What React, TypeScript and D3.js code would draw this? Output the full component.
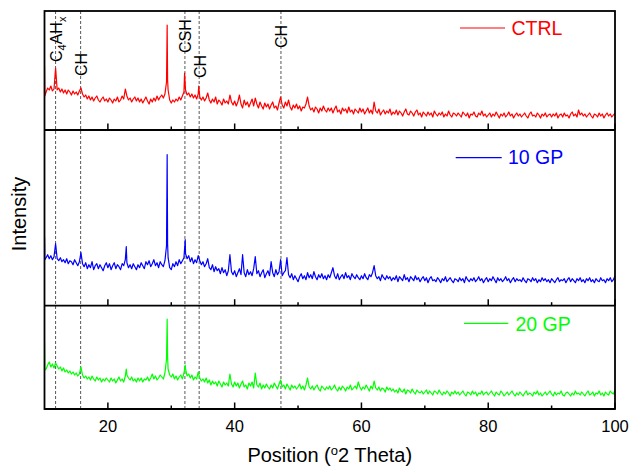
import React from 'react'
import * as d3 from 'd3'

const width = 629
const height = 468

// XRD scans, read on a 0.25 deg grid starting at 10 deg (intensity in a.u.)
const gridStart = 10
const gridStep = 0.25

const ctrl = [
  64, 38, 42, 40, 44, 39, 41, 62, 40, 42, 38, 41, 37, 40, 36, 40, 38, 35, 39, 36,
  38, 35, 39, 42, 36, 33, 35, 31, 34, 30, 33, 29, 32, 34, 30, 28, 31, 33, 29, 31,
  28, 32, 30, 27, 31, 29, 33, 28, 30, 34, 31, 41, 34, 30, 32, 28, 31, 33, 29, 32,
  28, 31, 27, 30, 33, 29, 26, 31, 28, 32, 29, 34, 30, 33, 35, 32, 36, 48, 40, 30,
  27, 30, 28, 31, 29, 33, 30, 34, 38, 40, 35, 37, 33, 36, 32, 35, 31, 36, 33, 30,
  33, 29, 32, 37, 30, 27, 31, 28, 33, 26, 30, 28, 25, 31, 27, 29, 26, 35, 28, 25,
  29, 24, 28, 35, 26, 22, 30, 25, 28, 23, 27, 31, 24, 32, 26, 22, 28, 24, 21, 27,
  23, 26, 21, 25, 28, 22, 24, 20, 27, 33, 25, 22, 28, 24, 30, 23, 20, 25, 22, 26,
  21, 24, 19, 23, 22, 26, 33, 24, 20, 22, 18, 23, 21, 17, 22, 19, 24, 20, 18, 22,
  19, 22, 17, 21, 24, 18, 20, 16, 22, 19, 21, 17, 23, 18, 20, 16, 21, 19, 17, 22,
  18, 21, 16, 19, 22, 17, 20, 16, 28, 19, 17, 21, 15, 18, 20, 16, 19, 17, 21, 15,
  18, 16, 20, 15, 19, 17, 14, 18, 21, 16, 15, 19, 17, 14, 18, 20, 15, 17, 13, 18,
  16, 14, 18, 15, 17, 13, 19, 16, 14, 17, 15, 18, 13, 16, 14, 19, 15, 13, 17, 16,
  14, 17, 15, 13, 18, 16, 14, 17, 12, 16, 15, 18, 14, 13, 17, 15, 19, 14, 16, 13,
  15, 17, 13, 16, 14, 18, 15, 12, 16, 14, 17, 13, 15, 18, 14, 16, 12, 15, 17, 14,
  16, 13, 15, 17, 14, 12, 16, 18, 14, 15, 13, 17, 15, 12, 16, 14, 17, 13, 15, 16,
  13, 16, 14, 17, 12, 15, 16, 13, 17, 14, 15, 12, 16, 18, 14, 16, 13, 20, 15, 17,
  14, 16, 13, 15, 17, 14, 12, 16, 15, 13, 17, 14, 16, 12, 15, 17, 14, 16, 13, 15,
  17,
]
const ctrlPeaks = [[10.05, 34], [29.35, 105], [29.42, 50], [32.1, 57], [34.33, 44]]

const gp10 = [
  69, 48, 51, 47, 50, 46, 49, 62, 47, 45, 48, 44, 46, 43, 47, 42, 45, 44, 41, 46,
  43, 40, 44, 53, 42, 39, 43, 37, 41, 38, 44, 36, 40, 42, 37, 41, 38, 35, 40, 43,
  38, 42, 36, 40, 43, 37, 41, 39, 36, 42, 40, 46, 43, 38, 41, 37, 42, 39, 36, 41,
  38, 43, 40, 37, 44, 41, 45, 39, 42, 46, 40, 43, 38, 44, 41, 39, 45, 60, 48, 38,
  36, 42, 39, 44, 40, 46, 42, 45, 48, 52, 47, 50, 44, 48, 42, 46, 43, 50, 45, 41,
  44, 39, 42, 47, 38, 36, 41, 34, 39, 35, 37, 32, 38, 33, 36, 30, 35, 51, 34, 31,
  35, 29, 33, 37, 31, 51, 33, 29, 36, 31, 34, 30, 37, 49, 32, 35, 29, 33, 36, 28,
  32, 35, 30, 44, 33, 29, 36, 31, 34, 46, 30, 33, 35, 48, 31, 28, 32, 26, 30, 27,
  24, 29, 32, 27, 30, 26, 33, 28, 31, 27, 34, 29, 26, 31, 28, 32, 27, 30, 26, 31,
  28, 33, 38, 30, 27, 32, 26, 29, 31, 27, 33, 28, 30, 26, 32, 29, 27, 31, 28, 26,
  30, 27, 32, 28, 26, 31, 29, 33, 40, 30, 27, 29, 25, 31, 28, 26, 30, 27, 29, 25,
  28, 26, 30, 24, 29, 27, 25, 31, 26, 28, 24, 29, 27, 25, 30, 26, 28, 24, 27, 29,
  25, 28, 23, 27, 29, 25, 26, 24, 28, 26, 23, 27, 25, 29, 24, 26, 28, 25, 23, 27,
  26, 24, 28, 25, 27, 23, 29, 26, 24, 27, 25, 28, 24, 26, 29, 25, 27, 23, 26, 28,
  24, 27, 25, 29, 26, 23, 28, 25, 27, 24, 26, 29, 25, 27, 23, 26, 28, 24, 27, 25,
  26, 24, 28, 25, 23, 27, 26, 24, 28, 25, 27, 23, 26, 24, 28, 25, 27, 24, 26, 23,
  27, 25, 23, 26, 28, 24, 26, 25, 27, 23, 26, 28, 24, 27, 25, 23, 27, 25, 28, 24,
  26, 23, 27, 25, 28, 24, 26, 23, 27, 25, 24, 28, 25, 26, 23, 27, 25, 28, 24, 26,
  30,
]
const gp10Peaks = [[10.05, 46], [22.9, 59], [29.35, 151], [29.42, 62], [32.2, 66]]

const gp20 = [
  67, 40, 44, 47, 42, 45, 41, 46, 43, 40, 42, 38, 41, 37, 39, 36, 38, 35, 37, 34,
  36, 33, 35, 42, 34, 31, 33, 30, 32, 29, 33, 30, 28, 32, 29, 31, 27, 30, 28, 31,
  29, 27, 31, 28, 30, 26, 29, 32, 28, 30, 27, 33, 34, 31, 29, 32, 28, 30, 27, 31,
  28, 31, 27, 30, 29, 32, 28, 31, 35, 30, 33, 29, 31, 34, 32, 30, 36, 50, 40, 34,
  32, 35, 30, 33, 29, 32, 34, 30, 36, 40, 33, 35, 31, 34, 29, 32, 30, 37, 31, 28,
  30, 27, 31, 26, 29, 24, 28, 25, 27, 23, 28, 25, 22, 27, 24, 26, 23, 35, 25, 22,
  27, 23, 26, 21, 25, 28, 22, 24, 20, 26, 23, 27, 21, 36, 24, 22, 26, 20, 24, 21,
  25, 22, 20, 24, 21, 26, 23, 20, 25, 29, 22, 24, 20, 25, 22, 19, 24, 21, 23, 20,
  22, 25, 20, 23, 19, 24, 31, 22, 20, 23, 19, 22, 24, 20, 18, 23, 21, 19, 22, 20,
  23, 19, 21, 24, 20, 18, 22, 19, 23, 21, 18, 22, 20, 24, 19, 21, 23, 20, 27, 22,
  19, 22, 20, 24, 21, 18, 23, 20, 28, 21, 19, 22, 18, 21, 20, 17, 22, 19, 21, 18,
  20, 17, 19, 16, 21, 18, 17, 20, 15, 19, 18, 16, 20, 17, 15, 19, 17, 16, 18, 15,
  17, 19, 15, 18, 16, 14, 18, 17, 15, 19, 16, 14, 17, 15, 18, 16, 13, 17, 15, 18,
  15, 17, 14, 16, 18, 15, 13, 17, 16, 14, 18, 15, 17, 13, 16, 15, 18, 14, 16, 17,
  14, 16, 18, 15, 13, 17, 15, 14, 18, 16, 13, 15, 17, 14, 16, 18, 15, 13, 16, 14,
  17, 15, 13, 16, 18, 14, 16, 15, 13, 17, 15, 18, 14, 16, 13, 15, 17, 14, 16, 18,
  15, 13, 17, 14, 16, 15, 18, 14, 13, 16, 17, 15, 13, 16, 14, 18, 15, 16, 14, 17,
  15, 13, 16, 18, 14, 15, 17, 13, 16, 15, 18, 14, 16, 13, 17, 15, 14, 18, 16, 15,
  19,
]
const gp20Peaks = [[10.05, 39], [22.9, 40], [29.35, 90], [29.42, 52], [32.2, 44]]

const seriesNames = ['CTRL', '10 GP', '20 GP']
const phaseLines = [11.75, 15.7, 32.15, 34.4, 47.3]
const phaseNames = ['C4AHx', 'CH', 'CSH', 'CH', 'CH']
const xMajor = [20, 40, 60, 80, 100]
const xMinor = [30, 50, 70, 90]

// layout
const left = 44.5
const right = 615
const frameTop = 11
const frameBottom = 409
const font = 'Arial, "Liberation Sans", sans-serif'
const labelBottoms = [62, 76, 53, 78, 48]

const panels = [
  { top: 11, bottom: 130, values: ctrl, extra: ctrlPeaks, color: '#ff0000', leg: [460, 505, 28, 511.5, 35] },
  { top: 130, bottom: 305.7, values: gp10, extra: gp10Peaks, color: '#0000ff', leg: [455.7, 501.7, 157.7, 508, 164.3] },
  { top: 305.7, bottom: 409, values: gp20, extra: gp20Peaks, color: '#00ff00', leg: [464, 508.3, 323.3, 515.5, 330.7] },
]

const x = d3.scaleLinear().domain([10, 100]).range([left, right])

const toPoints = (values: number[], extra: number[][]) => {
  const pts = values.map((v, i) => [gridStart + i * gridStep, v])
  return pts.concat(extra).sort((a, b) => a[0] - b[0])
}

const PhaseLabel = ({ name, px, bottom }: { name: string; px: number; bottom: number }) => {
  const tx = px + 6.5
  return (
    <text transform={`translate(${tx},${bottom}) rotate(-90)`} fontFamily={font} fontSize={16} fill="#000">
      {name === 'C4AHx' ? (
        <>
          <tspan>C</tspan>
          <tspan fontSize={11} dy={4}>4</tspan>
          <tspan dy={-4}>AH</tspan>
          <tspan fontSize={11} dy={4}>x</tspan>
        </>
      ) : (
        name
      )}
    </text>
  )
}

const App = () => {
  return (
    <svg width={width} height={height} style={{ position: 'absolute', left: 0, top: 0 }}>
      <rect width={width} height={height} fill="#fff" />
      <defs>
        {panels.map((p, i) => (
          <clipPath id={`clip${i}`} key={i}>
            <rect x={left} y={p.top} width={right - left} height={p.bottom - p.top} />
          </clipPath>
        ))}
      </defs>

      {phaseLines.map((d, i) => (
        <line key={i} x1={x(d)} x2={x(d)} y1={frameTop} y2={frameBottom}
          stroke="#444" strokeWidth={0.9} strokeDasharray="3,2" />
      ))}

      {panels.map((p, i) => {
        const y = d3.scaleLinear().domain([0, p.bottom - p.top]).range([p.bottom, p.top])
        const line = d3.line<number[]>().x(d => x(d[0])).y(d => y(d[1]))
        const [lx1, lx2, ly, tx, ty] = p.leg
        return (
          <g key={i}>
            <path d={line(toPoints(p.values, p.extra)) || ''} fill="none" stroke={p.color}
              strokeWidth={1.2} strokeLinejoin="round" clipPath={`url(#clip${i})`} />
            <line x1={lx1} x2={lx2} y1={ly} y2={ly} stroke={p.color} strokeWidth={1.2} />
            <text x={tx} y={ty} fill={p.color} fontFamily={font} fontSize={19.5}>{seriesNames[i]}</text>
            {xMajor.map(t => (
              <line key={'M' + t} x1={x(t)} x2={x(t)} y1={p.bottom} y2={p.bottom - 6.5} stroke="#000" strokeWidth={1.5} />
            ))}
            {xMinor.map(t => (
              <line key={'m' + t} x1={x(t)} x2={x(t)} y1={p.bottom} y2={p.bottom - 3.5} stroke="#000" strokeWidth={1.5} />
            ))}
            <line x1={left} x2={right} y1={p.bottom} y2={p.bottom} stroke="#000" strokeWidth={1.8} />
          </g>
        )
      })}

      {phaseNames.map((n, i) => (
        <PhaseLabel key={i} name={n} px={x(phaseLines[i])} bottom={labelBottoms[i]} />
      ))}

      <rect x={left} y={frameTop} width={right - left} height={frameBottom - frameTop}
        fill="none" stroke="#000" strokeWidth={1.8} />

      {xMajor.map(t => (
        <text key={t} x={x(t)} y={431.5} textAnchor="middle" fontFamily={font} fontSize={16.5}>{t}</text>
      ))}

      <text x={(left + right) / 2} y={462} textAnchor="middle" fontFamily={font} fontSize={20}>
        Position (<tspan fontSize={13} dy={-7}>o</tspan><tspan dy={7}>2 Theta)</tspan>
      </text>
      <text transform={`translate(26,214) rotate(-90)`} textAnchor="middle" fontFamily={font} fontSize={20}>
        Intensity
      </text>
    </svg>
  )
}

export default App
